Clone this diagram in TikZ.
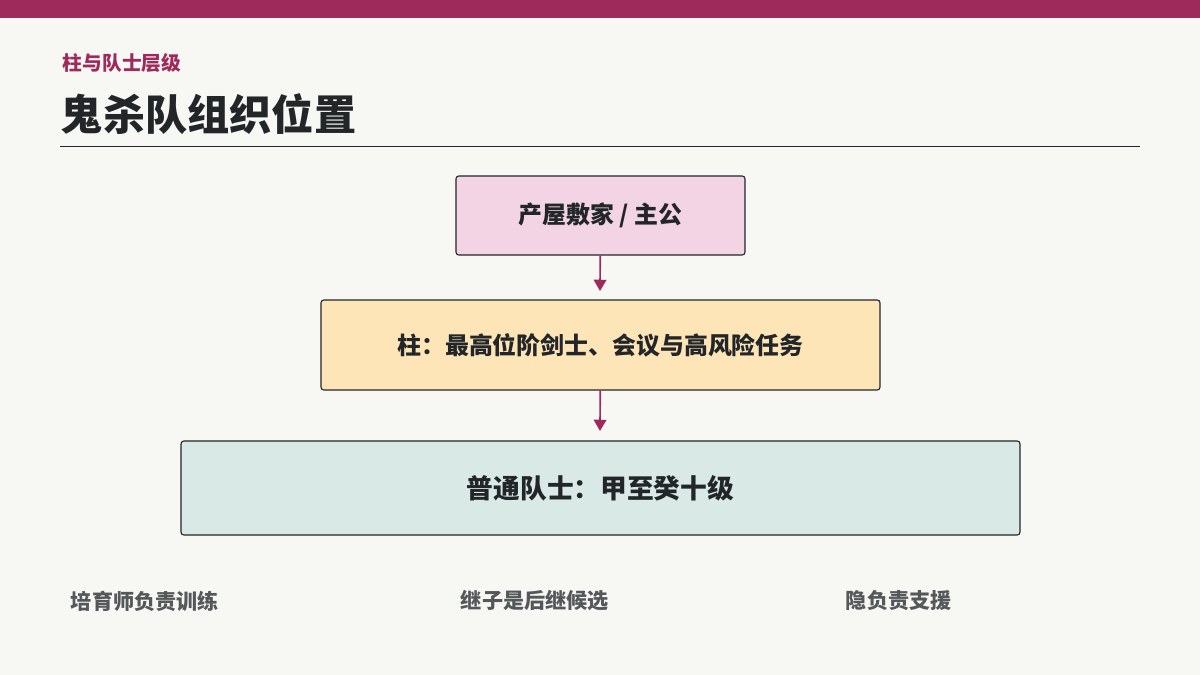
\documentclass[tikz,border=0pt]{standalone}
\usepackage{fontspec}
\setmainfont{Noto Sans CJK SC}
\usepackage{tikz}
\usetikzlibrary{arrows.meta, positioning}
\definecolor{barred}{RGB}{158, 42, 92}
\definecolor{pagebg}{RGB}{247, 247, 243}
\definecolor{inkdark}{RGB}{34, 38, 40}
\definecolor{inkgray}{RGB}{85, 88, 90}
\definecolor{boxpink}{RGB}{242, 212, 228}
\definecolor{boxsand}{RGB}{253, 229, 184}
\definecolor{boxmint}{RGB}{217, 233, 230}
\tikzset{
  level/.style={draw=inkdark, thick, rounded corners=2pt, font=\bfseries\fontsize{17}{20}\selectfont, text=inkdark},
  down/.style={-{Triangle[length=8pt, width=9pt]}, very thick, barred},
  foot/.style={anchor=west, font=\bfseries\fontsize{15}{18}\selectfont, text=inkgray}
}
\begin{document}
\begin{tikzpicture}[x=0.025cm, y=-0.025cm]
        % 背景
        \useasboundingbox (0,0) rectangle (1200,675);
        \fill[pagebg] (0,0) rectangle (1200,675);
        \fill[barred] (0,0) rectangle (1200,18);
        % 标题
        \node[anchor=west, font=\bfseries\fontsize{14}{16}\selectfont, text=barred] (kicker) at (58,63) {柱与队士层级};
        \node[anchor=west, font=\bfseries\fontsize{30}{34}\selectfont, text=inkdark] (title) at (56,114) {鬼杀队组织位置};
        \draw[inkdark, semithick] (60,146) -- (1140,146);
        % 层级
        \node[level, fill=boxpink, minimum width=289*0.025cm, minimum height=79*0.025cm] (lord) at (600.5,215.5) {产屋敷家 / 主公};
        \node[level, fill=boxsand, minimum width=559*0.025cm, minimum height=90*0.025cm] (pillar) at (600.5,345) {柱：最高位阶剑士、会议与高风险任务};
        \node[level, fill=boxmint, minimum width=839*0.025cm, minimum height=94*0.025cm, font=\bfseries\fontsize{19}{22}\selectfont] (corps) at (600.5,488) {普通队士：甲至癸十级};
        \draw[down] (lord) -- (600,291);
        \draw[down] (pillar) -- (600,431);
        % 底注
        \node[foot] (trainer) at (66,601) {培育师负责训练};
        \node[foot] (heir) at (456,601) {继子是后继候选};
        \node[foot] (kakushi) at (841,601) {隐负责支援};
    \end{tikzpicture}
\end{document}
